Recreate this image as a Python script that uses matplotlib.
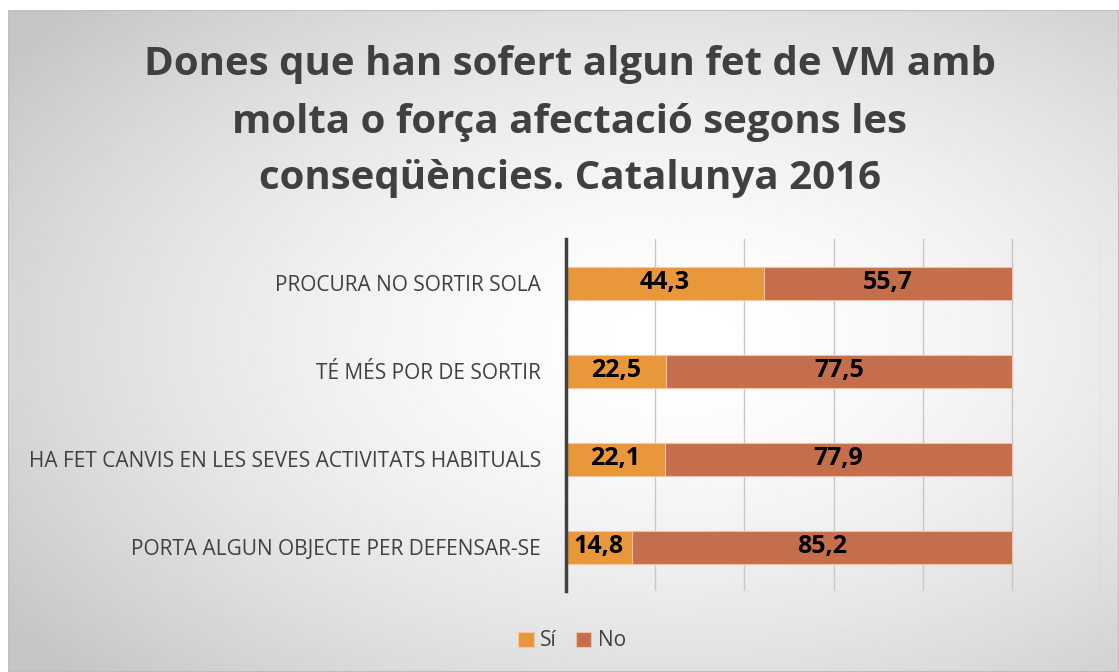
import numpy as np
import matplotlib.pyplot as plt
from matplotlib.patches import Rectangle

plt.rcParams['font.family'] = ['Open Sans', 'DejaVu Sans']

# dades
categories = ['PROCURA NO SORTIR SOLA', 'TÉ MÉS POR DE SORTIR',
              'HA FET CANVIS EN LES SEVES ACTIVITATS HABITUALS',
              'PORTA ALGUN OBJECTE PER DEFENSAR-SE']
si = [44.3, 22.5, 22.1, 14.8]
no = [55.7, 77.5, 77.9, 85.2]
series_names = ['Sí', 'No']
titol = 'Dones que han sofert algun fet de VM amb\nmolta o força afectació segons les\nconseqüències. Catalunya 2016'

W, H = 1119, 672
fig = plt.figure(figsize=(W / 100, H / 100), dpi=100)

# fons amb degradat radial
bg = fig.add_axes([8 / W, 0, 1 - 8 / W, 1 - 10 / H], zorder=-10)
yy, xx = np.mgrid[0:1:300j, 0:1:500j]
d = np.sqrt(((xx - 0.6) / 0.75) ** 2 + ((yy - 0.5) / 0.75) ** 2)
d = np.clip(d, 0, 1)
bg.imshow(1 - 0.23 * d ** 1.6, cmap='gray', vmin=0, vmax=1, aspect='auto',
          extent=[0, 1, 0, 1], interpolation='bilinear')
bg.add_patch(Rectangle((0, 0), 1, 1, transform=bg.transAxes, fill=False,
                       edgecolor='#bfbfbf', lw=1.5))
bg.set_axis_off()

ax = fig.add_axes([566 / W, 1 - 591 / H, (1101 - 566) / W, (591 - 239) / H])
ax.patch.set_alpha(0)

y = np.arange(len(categories))
b1 = ax.barh(y, si, height=0.375, color='#E8973A', edgecolor='#f3c9a8', lw=0.8, label=series_names[0])
b2 = ax.barh(y, no, left=si, height=0.375, color='#C56E4B', edgecolor='#f0c0a8', lw=0.8, label=series_names[1])

for i in range(len(categories)):
    ax.text(si[i] / 2, y[i], f'{si[i]:.1f}'.replace('.', ','), ha='center', va='center',
            fontsize=18, fontweight='bold', color='black')
    ax.text(si[i] + no[i] / 2, y[i], f'{no[i]:.1f}'.replace('.', ','), ha='center', va='center',
            fontsize=18, fontweight='bold', color='black')

ax.set_xlim(0, 120)
ax.set_ylim(3.5, -0.5)
ax.set_xticks(np.arange(0, 121, 20))
ax.set_xticklabels([])
ax.tick_params(axis='x', length=0)
ax.grid(axis='x', color='#c8c8c8', lw=1)
ax.set_axisbelow(True)
ax.set_yticks(y)
ax.set_yticklabels(categories, fontsize=15, color='#404040')
ax.tick_params(axis='y', length=0, pad=18)
for s in ['top', 'right', 'bottom']:
    ax.spines[s].set_visible(False)
ax.spines['left'].set_color('#404040')
ax.spines['left'].set_linewidth(2.5)

fig.text(570 / W, 1 - 122 / H, titol, ha='center', va='center', fontsize=29,
         fontweight='bold', color='#404040', linespacing=1.6)

fig.legend(handles=[b1, b2], loc='center', bbox_to_anchor=(572 / W, 1 - 641 / H), ncol=2,
           frameon=False, fontsize=15, handlelength=0.75, handleheight=0.75,
           handletextpad=0.3, columnspacing=0.9, labelcolor='#404040')

fig.savefig('out.png', dpi=100)
